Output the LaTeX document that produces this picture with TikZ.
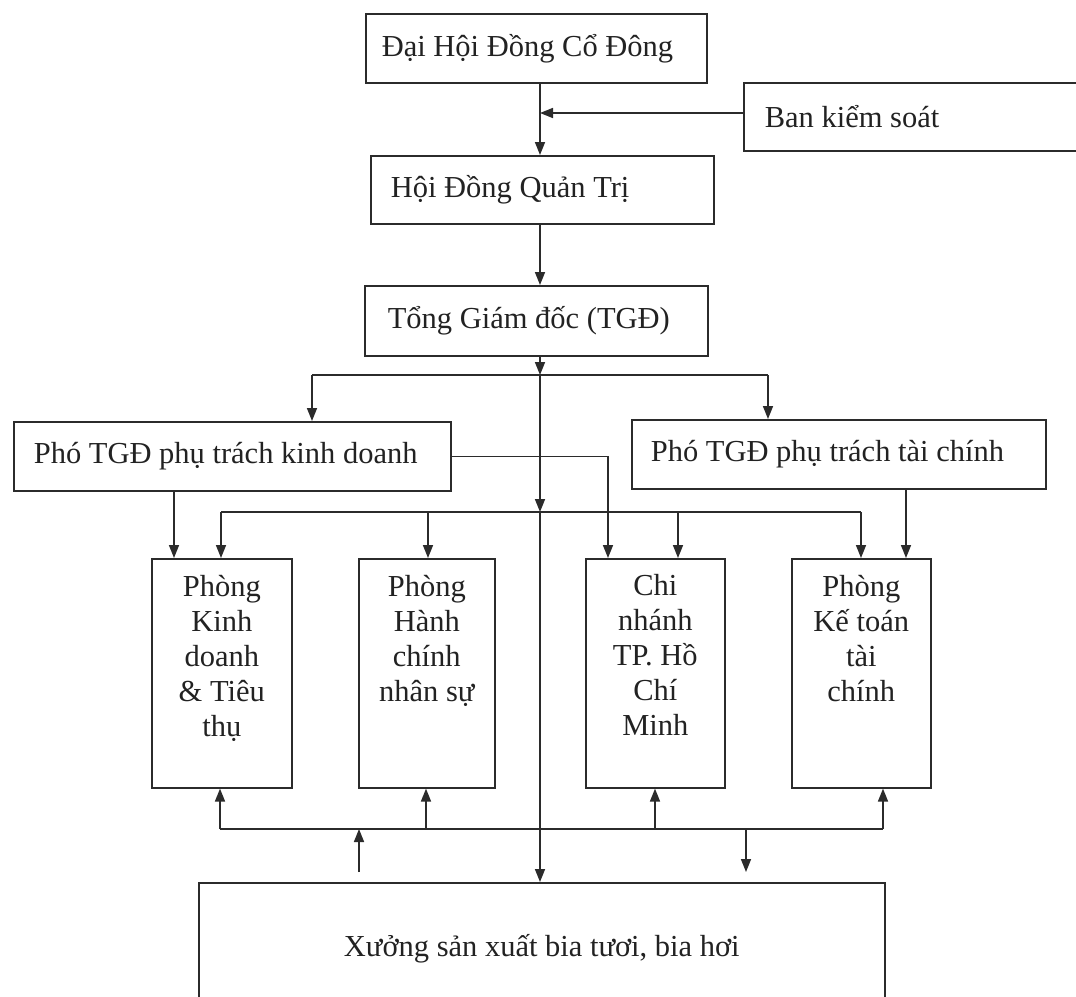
\documentclass[tikz,border=0pt]{standalone}
\usepackage{fontspec}
\setmainfont{Liberation Serif}
\usetikzlibrary{arrows.meta}
\definecolor{linec}{HTML}{2B2B2B}
\definecolor{textc}{HTML}{222222}
\tikzset{
  conn/.style={draw=linec, line width=1.6pt},
  arr/.style={conn, -{Triangle[length=13pt,width=10pt]}},
  hbox/.style={draw=linec, line width=1.6pt, inner ysep=0pt, anchor=north west, text=textc},
  lbox/.style={draw=linec, line width=1.6pt, inner sep=0pt, anchor=north west, text=textc},
}
\newcommand{\ubox}[7]{\node[hbox, inner xsep=#6pt, minimum height=#5pt-#3pt] (#1) at (#2,#3) {\makebox[\dimexpr #4pt-#2pt-#6pt-#6pt\relax][l]{#7}};}
\begin{document}
\begin{tikzpicture}[x=1pt,y=-1pt,font=\fontsize{30.5}{35}\selectfont]
\useasboundingbox (0,0) rectangle (1076,996);
\fill[white] (0,0) rectangle (1076,996);
\clip (0,0) rectangle (1076,996);
% upper boxes
\ubox{dhd}{365}{13}{706}{82}{16}{Đại Hội Đồng Cổ Đông}
\ubox{bks}{743}{82}{1090}{150}{21}{Ban kiểm soát}
\ubox{hdqt}{370}{155}{713}{223}{20}{Hội Đồng Quản Trị}
\ubox{tgd}{364}{285}{707}{355}{23}{Tổng Giám đốc (TGĐ)}
\ubox{pkd}{13}{421}{450}{490}{20}{Phó TGĐ phụ trách kinh doanh}
\ubox{ptc}{631}{419}{1045}{488}{19}{Phó TGĐ phụ trách tài chính}
% lower boxes
\node[lbox] (kdt) at (151,558) {\begin{minipage}[t][229pt][t]{140pt}\centering\vspace*{16pt}Phòng\\Kinh\\doanh\\\& Tiêu\\thụ\end{minipage}};
\node[lbox] (hc) at (358,558) {\begin{minipage}[t][229pt][t]{136pt}\centering\vspace*{16pt}Phòng\\Hành\\chính\\nhân sự\end{minipage}};
\node[lbox] (cn) at (585,558) {\begin{minipage}[t][229pt][t]{139pt}\centering\vspace*{16pt}Chi\\nhánh\\TP. Hồ\\Chí\\Minh\end{minipage}};
\node[lbox] (kt) at (791,558) {\begin{minipage}[t][229pt][t]{139pt}\centering\vspace*{16pt}Phòng\\Kế toán\\tài\\chính\end{minipage}};
\node[lbox, minimum width=686pt, minimum height=132pt] (xuong) at (198,882) {Xưởng sản xuất bia tươi, bia hơi};
% coordinates
\coordinate (sp) at (540,0);
\coordinate (j1) at (540,375);
\coordinate (j2) at (540,512);
\coordinate (bl) at (312,375);
\coordinate (br) at (768,375);
\coordinate (t1) at (221,512);
\coordinate (t2) at (861,512);
\coordinate (t3) at (428,512);
\coordinate (t4) at (678,512);
\coordinate (kdd) at (174,0);
\coordinate (cnx) at (608,0);
\coordinate (tcd) at (906,0);
\coordinate (b1) at (220,829);
\coordinate (b2) at (883,829);
\coordinate (b3) at (426,829);
\coordinate (b4) at (655,829);
\coordinate (u1) at (359,872);
\coordinate (d1) at (746,829);
\coordinate (d2) at (746,872);
\coordinate (bka) at (0,113);
% connectors
\draw[arr] (dhd.south -| sp) -- (hdqt.north -| sp);
\draw[arr] (bks.west |- bka) -- (sp |- bka);
\draw[arr] (hdqt.south -| sp) -- (tgd.north -| sp);
\draw[arr] (tgd.south -| sp) -- (j1);
\draw[conn] (bl) -- (br);
\draw[arr] (bl) -- (bl |- pkd.north);
\draw[arr] (br) -- (br |- ptc.north);
\draw[arr] (j1) -- (j2);
\draw[arr] (j2) -- (xuong.north -| sp);
\draw[conn] (t1) -- (t2);
\draw[arr] (t1) -- (t1 |- kdt.north);
\draw[arr] (t3) -- (t3 |- hc.north);
\draw[arr] (t4) -- (t4 |- cn.north);
\draw[arr] (t2) -- (t2 |- kt.north);
\draw[arr] (pkd.south -| kdd) -- (kdt.north -| kdd);
\draw[arr] (pkd.east) -| (cn.north -| cnx);
\draw[arr] (ptc.south -| tcd) -- (kt.north -| tcd);
\draw[conn] (b1) -- (b2);
\draw[arr] (b1) -- (b1 |- kdt.south);
\draw[arr] (b3) -- (b3 |- hc.south);
\draw[arr] (b4) -- (b4 |- cn.south);
\draw[arr] (b2) -- (b2 |- kt.south);
\draw[arr] (u1) -- (u1 |- b1);
\draw[arr] (d1) -- (d2);
\end{tikzpicture}
\end{document}
